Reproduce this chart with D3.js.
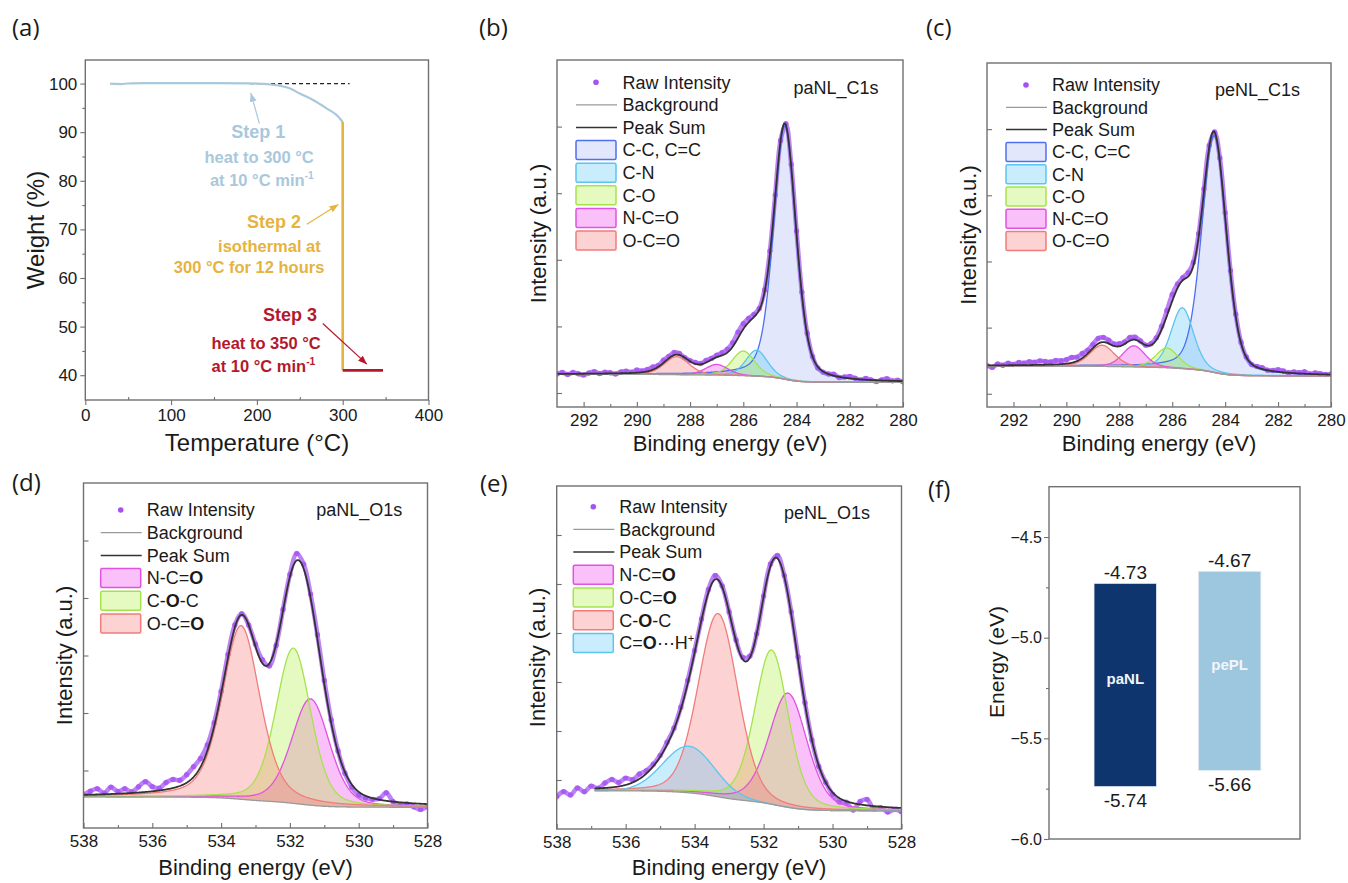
<!DOCTYPE html>
<html><head><meta charset="utf-8">
<script src="https://cdn.jsdelivr.net/npm/d3@7"></script>
<style>body{margin:0;background:#fff}svg{display:block}</style>
</head><body><script>
// ================= DATA =================
// (a) TGA
const tgaTempTicks = [0, 100, 200, 300, 400];
const tgaTempMinor = [50, 150, 250, 350];
const tgaWeightTicks = [40, 50, 60, 70, 80, 90, 100];
const tgaWeightMinor = [45, 55, 65, 75, 85, 95];
const tgaStep1 = [[28.8,100.0],[35,99.93],[42,99.9],[50,100.02],[70,100.08],[100,100.1],[150,100.1],[190,100.05],[205,99.95],[223,99.65],[239,98.97],[250,97.94],[266,96.57],[281.5,94.86],[293,93.5],[300,92.1]];
const tgaStep2 = [[300,92.1],[300,41.0]];
const tgaStep3 = [[300,41.0],[347,41.0]];
const tgaRef = [[192,100],[308,100]];
const tgaNotes = [
  {T:201.7, W:90.0,  s:"Step 1", step:0, big:true},
  {T:202.6, W:84.9,  s:"heat to 300 °C", step:0},
  {T:205.7, W:80.1,  s:"at 10 °C min^-1", step:0},
  {T:220.0, W:71.5,  s:"Step 2", step:1, big:true},
  {T:214.6, W:66.5,  s:"isothermal at", step:1},
  {T:190.9, W:62.3,  s:"300 °C for 12 hours", step:1},
  {T:238.7, W:52.35, s:"Step 3", step:2, big:true},
  {T:210.7, W:46.65, s:"heat to 350 °C", step:2},
  {T:207.6, W:41.9,  s:"at 10 °C min^-1", step:2}
];
const tgaArrows = [
  {from:[202.9,91.77], to:[192.9,98.07], step:0},
  {from:[258.2,71.06], to:[295.0,75.1], step:1},
  {from:[276.8,50.64], to:[328.2,42.27], step:2}
];

// (b) paNL C1s  — fitted components: centre (eV), height, FWHM (eV), Lorentz fraction
const c1sLabels = ["C-C, C=C","C-N","C-O","N-C=O","O-C=O"];
const bCenters = [284.44, 285.5, 286.0, 287.0, 288.5];
const bHeights = [3.8, 0.39, 0.37, 0.16, 0.27];
const bFwhm    = [1.0, 0.95, 1.0, 1.0, 1.1];
const bEta     = [0.35, 0.3, 0.3, 0.3, 0.3];
const bBackground = [0.16, 0.28];   // low-BE end, high-BE end
// raw intensity minus peak sum, 293.0 → 280.0 eV every 0.2 eV
const bRawDev = [0.00,0.02,-0.01,0.02,0.00,-0.02,0.01,0.03,0.00,0.02, 0.01,-0.01,0.02,0.03,0.01,0.04,0.02,0.03,0.04,0.02, 0.04,0.03,0.04,0.02,0.00,0.01,0.02,0.01,0.03,0.02, 0.03,0.04,0.05,0.06,0.09,0.08,0.06,0.04,0.02,0.03, 0.04,0.02,0.00,0.02,0.03,0.04,0.03,0.02,0.00,-0.02, -0.01,0.00,0.02,-0.01,0.01,0.03,0.01,-0.01,0.02,0.00, -0.02,0.01,0.03,0.00,0.01,-0.01];

// (c) peNL C1s
const cCenters = [284.42, 285.62, 286.2, 287.45, 288.65];
const cHeights = [3.58, 0.92, 0.30, 0.32, 0.32];
const cFwhm    = [1.1, 1.0, 1.0, 1.0, 1.1];
const cEta     = [0.3, 0.3, 0.3, 0.3, 0.3];
const cBackground = [0.27, 0.42];
const cRawDev = [0.00,-0.03,0.02,0.00,0.03,0.01,0.04,0.03,0.05,0.04, 0.06,0.05,0.04,0.06,0.05,0.06,0.08,0.06,0.07,0.05, 0.06,0.08,0.07,0.05,0.03,0.04,0.03,0.05,0.04,0.02, 0.00,0.02,0.03,0.05,0.08,0.10,0.06,0.04,0.06,0.05, 0.04,0.03,0.02,0.00,0.05,0.06,0.04,0.03,0.01,0.00, -0.01,0.01,0.02,0.00,0.01,0.03,0.02,0.00,0.02,0.01, 0.03,0.00,0.02,0.01,0.00,0.01];

// (d) paNL O1s
const dLabels  = ["N-C=[O]","C-[O]-C","O-C=[O]"];
const dCenters = [531.4, 531.9, 533.42];
const dHeights = [1.85, 2.7, 3.02];
const dFwhm    = [1.3, 1.2, 1.3];
const dEta     = [0.3, 0.3, 0.4];
const dBackground = [-0.64, -0.46];
// 538.0 → 528.0 eV every 0.2 eV
const dRawDev = [0.00,0.06,0.10,0.02,0.12,0.04,0.08,0.02,0.10,0.18, 0.08,0.04,0.12,0.15,0.10,0.14,0.18,0.15,0.10,0.06, 0.04,0.06,0.04,0.02,0.00,0.04,0.06,-0.04,-0.02,0.02, 0.04,0.12,0.08,0.06,0.08,0.06,0.05,0.02,-0.02,-0.05, -0.06,-0.04,-0.02,0.02,0.14,0.00,-0.04,-0.02,-0.06,-0.10, -0.04];

// (e) peNL O1s
const eLabels  = ["N-C=[O]","O-C=[O]","C-[O]-C","C=[O]⋯H^+"];
const eCenters = [531.29, 531.77, 533.32, 534.17];
const eHeights = [2.33, 3.15, 3.74, 0.95];
const eFwhm    = [1.3, 1.15, 1.35, 1.75];
const eEta     = [0.3, 0.3, 0.2, 0.0];
const eBackground = [-0.63, -0.22];
const eRawDev = [-0.15,-0.05,-0.12,0.02,-0.06,0.05,0.00,0.10,0.16,0.08, 0.14,0.06,0.10,0.06,0.04,0.03,0.05,0.02,0.04,0.06, 0.04,0.02,0.06,0.08,0.02,0.00,0.02,0.04,0.03,0.00, 0.02,0.04,0.06,0.02,0.04,0.06,0.03,0.00,-0.02,0.00, -0.04,-0.08,-0.02,-0.14,0.06,0.12,-0.06,-0.02,-0.10,-0.04, -0.08];

// (f) energy levels
const fCategories = ["paNL","pePL"];
const fTop    = [-4.73, -4.67];
const fBottom = [-5.74, -5.66];
const fTicks  = [-4.5, -5.0, -5.5, -6.0];
const fMinor  = [-4.75, -5.25, -5.75];

// ================= STYLE =================
const FONT = '"Liberation Sans", Arial, Helvetica, sans-serif';
const INK = "#1a1a1a", FRAME = "#707070";
const stepColors = ["#a9c8dc", "#e6b33e", "#b3192d"];
const compStyle = {
  blue:    {fill:"rgba(110,135,240,0.20)", stroke:"#4d6ff0"},
  cyan:    {fill:"rgba(90,200,250,0.32)",  stroke:"#5cc4ef"},
  green:   {fill:"rgba(175,240,60,0.32)",  stroke:"#a6e24c"},
  magenta: {fill:"rgba(240,70,240,0.34)",  stroke:"#e052e0"},
  red:     {fill:"rgba(245,105,105,0.30)", stroke:"#f07c7c"}
};
const RAW = "#a453f3";

const svg = d3.select("body").append("svg").attr("width",1348).attr("height",883)
  .style("font-family", FONT);

function rich(sel, str, size){
  const re = /\[([^\]]+)\]|\^(\S+)|([^\[\^]+)/g; let m;
  while((m = re.exec(str))){
    if(m[1]) sel.append("tspan").attr("font-weight","bold").text(m[1]);
    else if(m[2]) sel.append("tspan").attr("font-size", size*0.62).attr("dy", -size*0.4).text(m[2]);
    else sel.append("tspan").text(m[3]);
  }
}
function styleAxis(g, fs){
  g.select(".domain").remove();
  g.selectAll(".tick line").attr("stroke", FRAME).attr("stroke-width", 1.1);
  g.selectAll(".tick text").attr("font-size", fs).attr("font-family", FONT).attr("fill", INK);
}
function frameRect(g, x0, y0, x1, y1){
  g.append("rect").attr("x",x0).attr("y",y0).attr("width",x1-x0).attr("height",y1-y0)
    .attr("fill","none").attr("stroke",FRAME).attr("stroke-width",1.4);
}
function panelLetter(txt, x, y){
  svg.append("text").attr("x",x).attr("y",y).attr("dy","0.35em").attr("font-size",24)
    .attr("font-family",'"Open Sans", "DejaVu Sans", sans-serif').attr("fill",INK).text(txt);
}
function vTitle(txt, x, y, fs){
  svg.append("text").attr("transform",`translate(${x},${y}) rotate(-90)`).attr("text-anchor","middle")
    .attr("dy","0.35em").attr("font-size",fs).attr("fill",INK).text(txt);
}
function hTitle(txt, x, y, fs){
  svg.append("text").attr("x",x).attr("y",y).attr("text-anchor","middle").attr("dy","0.35em")
    .attr("font-size",fs).attr("fill",INK).text(txt);
}

// ================= (a) =================
(function(){
  const g = svg.append("g");
  const x = d3.scaleLinear().domain([0,400]).range([85.3,428.5]);
  const y = d3.scaleLinear().domain([34.9,104.85]).range([400,60]);
  g.append("g").attr("transform","translate(0,400)")
    .call(d3.axisBottom(x).tickValues(tgaTempTicks).tickSize(5).tickPadding(4)).call(a=>styleAxis(a,17));
  g.append("g").attr("transform","translate(0,400)")
    .call(d3.axisBottom(x).tickValues(tgaTempMinor).tickSize(-3).tickFormat("")).call(a=>styleAxis(a,17));
  g.append("g").attr("transform","translate(85.3,0)")
    .call(d3.axisLeft(y).tickValues(tgaWeightTicks).tickSize(5).tickPadding(3)).call(a=>styleAxis(a,17));
  g.append("g").attr("transform","translate(85.3,0)")
    .call(d3.axisLeft(y).tickValues(tgaWeightMinor).tickSize(3).tickFormat("")).call(a=>styleAxis(a,17));
  frameRect(g, 85.3, 60, 428.5, 400);

  const line = d3.line().x(d=>x(d[0])).y(d=>y(d[1]));
  g.append("path").datum(tgaRef).attr("d",line).attr("fill","none").attr("stroke","#222")
    .attr("stroke-width",1.3).attr("stroke-dasharray","4,3");
  g.append("path").datum(tgaStep1).attr("d",line.curve(d3.curveMonotoneX)).attr("fill","none")
    .attr("stroke",stepColors[0]).attr("stroke-width",2.2);
  const lin = d3.line().x(d=>x(d[0])).y(d=>y(d[1]));
  g.append("path").datum(tgaStep2).attr("d",lin).attr("fill","none").attr("stroke",stepColors[1]).attr("stroke-width",2.6);
  g.append("path").datum(tgaStep3).attr("d",lin).attr("fill","none").attr("stroke",stepColors[2]).attr("stroke-width",2.6);

  const defs = svg.append("defs");
  stepColors.forEach((c,i)=>{
    defs.append("marker").attr("id","arr"+i).attr("viewBox","0 0 10 8").attr("refX",10).attr("refY",4)
      .attr("markerWidth",9).attr("markerHeight",7).attr("markerUnits","userSpaceOnUse").attr("orient","auto")
      .append("path").attr("d","M0,0 L10,4 L0,8 z").attr("fill",c);
  });
  tgaArrows.forEach(a=>{
    g.append("line").attr("x1",x(a.from[0])).attr("y1",y(a.from[1])).attr("x2",x(a.to[0])).attr("y2",y(a.to[1]))
      .attr("stroke",stepColors[a.step]).attr("stroke-width",1.2).attr("marker-end",`url(#arr${a.step})`);
  });
  tgaNotes.forEach(n=>{
    const fs = n.big ? 18 : 16.5;
    const t = g.append("text").attr("x",x(n.T)).attr("y",y(n.W)).attr("dy","0.35em").attr("text-anchor","middle")
      .attr("font-size",fs).attr("font-weight","bold").attr("fill",stepColors[n.step]);
    rich(t, n.s, fs);
  });
  vTitle("Weight (%)", 36, 230, 24);
  hTitle("Temperature (°C)", 257, 443, 24);
  panelLetter("(a)", 12, 28);
})();

// ================= XPS panels =================
function pv(E, p){ const u = (E - p.c)/p.w; return p.h*((1-p.eta)*Math.exp(-4*Math.LN2*u*u) + p.eta/(1+4*u*u)); }

function xps(cfg){
  const g = svg.append("g");
  const x = d3.scaleLinear().domain(cfg.xDomain).range([cfg.x0,cfg.x1]);
  const y = d3.scaleLinear().domain(cfg.yDomain).range([cfg.y1,cfg.y0]);
  const id = "clip"+cfg.name;
  svg.append("clipPath").attr("id",id).append("rect").attr("x",cfg.x0).attr("y",cfg.y0)
    .attr("width",cfg.x1-cfg.x0).attr("height",cfg.y1-cfg.y0);
  const peaks = cfg.centers.map((c,i)=>({c, h:cfg.heights[i], w:cfg.fwhm[i], eta:cfg.eta[i], style:compStyle[cfg.colors[i]]}));
  const [fitHi, fitLo] = cfg.fitRange;
  const step = 0.02;
  const grid = d3.range(fitLo, fitHi + 1e-9, step);
  const sumP = E => d3.sum(peaks, p=>pv(E,p));
  let cum = 0; const cumArr = [];
  grid.forEach((E,i)=>{ if(i>0) cum += (sumP(E)+sumP(grid[i-1]))/2*step; cumArr.push(cum); });
  const [bgLow, bgHigh] = cfg.background;
  const bgAt = E => {
    if(E <= fitLo) return bgLow; if(E >= fitHi) return bgHigh;
    const i = Math.min(grid.length-1, Math.round((E-fitLo)/step));
    return bgLow + (bgHigh-bgLow)*cumArr[i]/cum;
  };
  const plot = g.append("g").attr("clip-path",`url(#${id})`);

  // raw intensity
  const raw = cfg.rawDev.map((d,i)=>{ const E = cfg.xDomain[0] - 0.2*i; return [E, sumP(E)+bgAt(E)+d]; });
  plot.append("path").datum(raw).attr("d", d3.line().x(d=>x(d[0])).y(d=>y(d[1])).curve(d3.curveCatmullRom))
    .attr("fill","none").attr("stroke",RAW).attr("stroke-width",4.6).attr("stroke-opacity",0.72)
    .attr("stroke-linejoin","round");
  plot.selectAll("circle.raw").data(raw).join("circle").attr("class","raw")
    .attr("cx",d=>x(d[0])).attr("cy",d=>y(d[1])).attr("r",2.7).attr("fill",RAW).attr("fill-opacity",0.8);

  // components
  peaks.forEach(p=>{
    plot.append("path").datum(grid)
      .attr("d", d3.area().x(E=>x(E)).y0(E=>y(bgAt(E))).y1(E=>y(bgAt(E)+pv(E,p))))
      .attr("fill", p.style.fill);
  });
  peaks.forEach(p=>{
    plot.append("path").datum(grid)
      .attr("d", d3.line().x(E=>x(E)).y(E=>y(bgAt(E)+pv(E,p))))
      .attr("fill","none").attr("stroke",p.style.stroke).attr("stroke-width",1.3);
  });
  // background
  plot.append("path").datum(grid).attr("d", d3.line().x(E=>x(E)).y(E=>y(bgAt(E))))
    .attr("fill","none").attr("stroke","#9a9a9a").attr("stroke-width",1.3);
  // peak sum
  plot.append("path").datum(grid).attr("d", d3.line().x(E=>x(E)).y(E=>y(bgAt(E)+sumP(E))))
    .attr("fill","none").attr("stroke","#333").attr("stroke-width",1.8);

  // axes
  const major = d3.range(cfg.xTicks[0], cfg.xTicks[1]-0.001, -2);
  const minor = d3.range(cfg.xTicks[0]-1, cfg.xTicks[1], -2);
  g.append("g").attr("transform",`translate(0,${cfg.y1})`)
    .call(d3.axisBottom(x).tickValues(major).tickSize(-5).tickPadding(7)).call(a=>styleAxis(a,17));
  g.append("g").attr("transform",`translate(0,${cfg.y1})`)
    .call(d3.axisBottom(x).tickValues(minor).tickSize(-3).tickFormat("")).call(a=>styleAxis(a,17));
  g.append("g").attr("transform",`translate(${cfg.x0},0)`)
    .call(d3.axisLeft(y).tickValues(cfg.yTicks).tickSize(-5).tickFormat("")).call(a=>styleAxis(a,17));
  frameRect(g, cfg.x0, cfg.y0, cfg.x1, cfg.y1);

  // legend
  const L = cfg.legend;
  const items = [{t:"Raw Intensity", k:"dot"},{t:"Background", k:"bg"},{t:"Peak Sum", k:"sum"}]
    .concat(cfg.labels.map((t,i)=>({t, k:"sw", s:compStyle[cfg.colors[i]]})));
  items.forEach((it,i)=>{
    const yy = L.y + i*L.dy;
    if(it.k==="dot") g.append("circle").attr("cx",L.sx+20).attr("cy",yy).attr("r",2.8).attr("fill",RAW);
    else if(it.k==="bg") g.append("line").attr("x1",L.sx).attr("x2",L.sx+41).attr("y1",yy).attr("y2",yy).attr("stroke","#9a9a9a").attr("stroke-width",1.3);
    else if(it.k==="sum") g.append("line").attr("x1",L.sx).attr("x2",L.sx+41).attr("y1",yy).attr("y2",yy).attr("stroke","#333").attr("stroke-width",1.5);
    else g.append("rect").attr("x",L.sx).attr("y",yy-9.5).attr("width",40).attr("height",19).attr("rx",1.5)
      .attr("fill",it.s.fill).attr("stroke",it.s.stroke).attr("stroke-width",1.5);
    const t = g.append("text").attr("x",L.tx).attr("y",yy).attr("dy","0.35em").attr("font-size",18).attr("fill",INK);
    rich(t, it.t, 18);
  });
  g.append("text").attr("x",cfg.tag[0]).attr("y",cfg.tag[1]).attr("dy","0.35em").attr("text-anchor","middle")
    .attr("font-size",18).attr("fill",INK).text(cfg.tagText);

  vTitle("Intensity (a.u.)", cfg.x0-19, (cfg.y0+cfg.y1)/2, 22);
  hTitle("Binding energy (eV)", (cfg.x0+cfg.x1)/2, cfg.titleY, 22);
}

const c1sColors = ["blue","cyan","green","magenta","red"];
xps({name:"b", x0:557, x1:903, y0:60, y1:407, xDomain:[293,280], yDomain:[-0.21,5.0], yTicks:[0,1,2,3,4],
  xTicks:[292,280], fitRange:[293,280], centers:bCenters, heights:bHeights, fwhm:bFwhm, eta:bEta,
  background:bBackground, rawDev:bRawDev, labels:c1sLabels, colors:c1sColors,
  legend:{sx:576, tx:622.5, y:82.3, dy:22.6}, tag:[836,87.3], tagText:"paNL_C1s", titleY:443});
xps({name:"c", x0:987, x1:1331, y0:63, y1:407, xDomain:[293,280], yDomain:[-0.2,5.0], yTicks:[0,1,2,3,4],
  xTicks:[292,280], fitRange:[293,280], centers:cCenters, heights:cHeights, fwhm:cFwhm, eta:cEta,
  background:cBackground, rawDev:cRawDev, labels:c1sLabels, colors:c1sColors,
  legend:{sx:1006, tx:1052, y:85, dy:22.3}, tag:[1257.5,90], tagText:"peNL_C1s", titleY:443});
xps({name:"d", x0:83.5, x1:427.5, y0:483, y1:828, xDomain:[538,528], yDomain:[-1,5], yTicks:[0,1,2,3,4],
  xTicks:[538,528], fitRange:[538,528], centers:dCenters, heights:dHeights, fwhm:dFwhm, eta:dEta,
  background:dBackground, rawDev:dRawDev, labels:dLabels, colors:["magenta","green","red"],
  legend:{sx:100.7, tx:146.7, y:510, dy:22.7}, tag:[359.3,510], tagText:"paNL_O1s", titleY:867});
xps({name:"e", x0:556.7, x1:901.5, y0:486, y1:829, xDomain:[538,528], yDomain:[-1,6], yTicks:[0,1,2,3,4,5],
  xTicks:[538,528], fitRange:[536.9,528], centers:eCenters, heights:eHeights, fwhm:eFwhm, eta:eEta,
  background:eBackground, rawDev:eRawDev, labels:eLabels, colors:["magenta","green","red","cyan"],
  legend:{sx:573.3, tx:619.3, y:506.7, dy:22.7}, tag:[827,512.3], tagText:"peNL_O1s", titleY:867});

panelLetter("(b)", 479, 28);
panelLetter("(c)", 926, 28);
panelLetter("(d)", 12, 483);
panelLetter("(e)", 480, 484);
panelLetter("(f)", 928, 490);

// ================= (f) =================
(function(){
  const g = svg.append("g");
  const y = d3.scaleLinear().domain([-6.0,-4.25]).range([839,486.7]);
  const x = d3.scaleBand().domain(fCategories).range([1052.3,1302.6]).paddingInner(0.4).paddingOuter(0.4);
  const colors = ["#0f356f","#9dc6df"];
  g.append("g").attr("transform","translate(1049,0)")
    .call(d3.axisLeft(y).tickValues(fTicks).tickFormat(d3.format(".1f")).tickSize(5).tickPadding(2)).call(a=>styleAxis(a,16));
  g.append("g").attr("transform","translate(1049,0)")
    .call(d3.axisLeft(y).tickValues(fMinor).tickSize(3).tickFormat("")).call(a=>styleAxis(a,16));
  frameRect(g, 1049, 486.7, 1300, 839);
  fCategories.forEach((c,i)=>{
    const cx = x(c) + x.bandwidth()/2;
    g.append("rect").attr("x",x(c)).attr("y",y(fTop[i])).attr("width",x.bandwidth())
      .attr("height",y(fBottom[i])-y(fTop[i])).attr("fill",colors[i]).attr("stroke","#e8eef6").attr("stroke-width",0.8);
    g.append("text").attr("x",cx).attr("y",y(fTop[i])-4).attr("text-anchor","middle").attr("font-size",19)
      .attr("fill",INK).text(fTop[i].toFixed(2));
    g.append("text").attr("x",cx).attr("y",y(fBottom[i])+20).attr("text-anchor","middle").attr("font-size",19)
      .attr("fill",INK).text(fBottom[i].toFixed(2));
    g.append("text").attr("x",cx).attr("y",y((fTop[i]+fBottom[i])/2)-6).attr("dy","0.35em").attr("text-anchor","middle")
      .attr("font-size",15).attr("font-weight","bold").attr("fill","#f2f5fa").text(c);
  });
  vTitle("Energy (eV)", 997, 662, 21);
})();
</script></body></html>
